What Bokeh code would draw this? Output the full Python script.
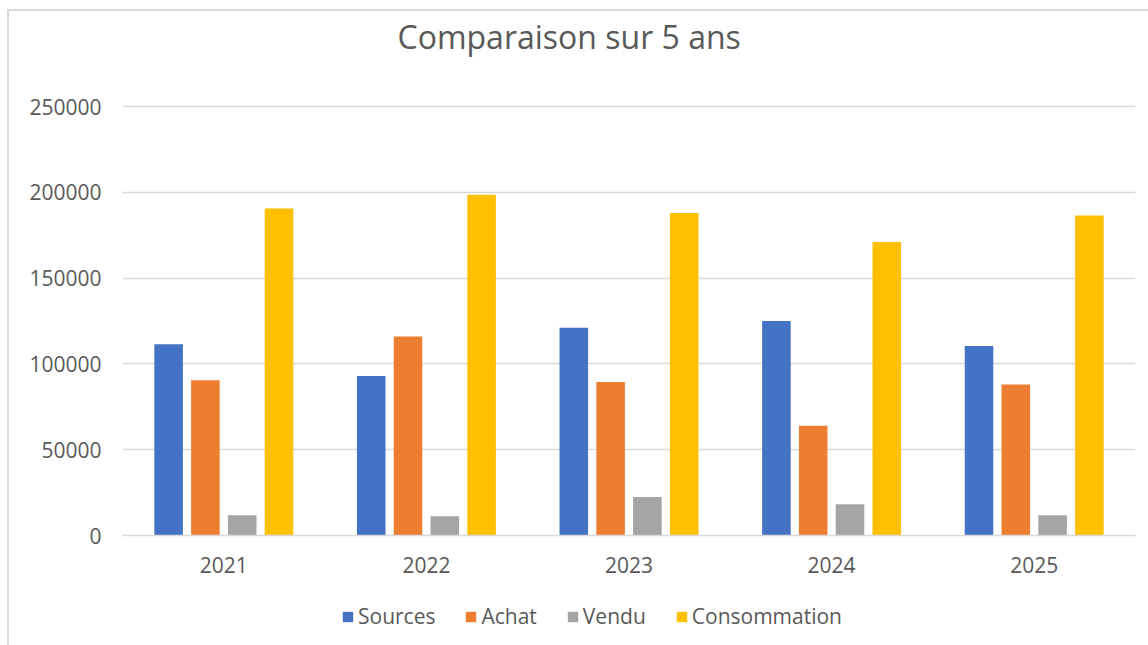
from bokeh.plotting import figure
from bokeh.layouts import column
from bokeh.models import FactorRange, Range1d, FixedTicker, NumeralTickFormatter, Legend, LegendItem, ColumnDataSource
from bokeh.transform import dodge
from bokeh.embed import file_html
from bokeh.resources import INLINE

years = ["2021", "2022", "2023", "2024", "2025"]
series = ["Sources", "Achat", "Vendu", "Consommation"]
sources = [111500, 93000, 121000, 125000, 110500]
achat = [90500, 116000, 89500, 64000, 88000]
vendu = [11800, 11200, 22500, 18200, 11800]
consommation = [190500, 198500, 188000, 171000, 186500]
colors = ["#4472C4", "#ED7D31", "#A5A5A5", "#FFC000"]
y_ticks = [0, 50000, 100000, 150000, 200000, 250000]

src = ColumnDataSource(dict(year=years, Sources=sources, Achat=achat,
                            Vendu=vendu, Consommation=consommation))

FONT = "Open Sans"
TXT = "#595959"

# frame extends a little above the top gridline so the title can sit higher
y_top = 250000 * 477 / 429

p = figure(x_range=FactorRange(*years), y_range=Range1d(0, y_top),
           width=1139, height=580, output_backend="svg", toolbar_location=None,
           min_border_left=113, min_border_right=13, min_border_top=47, min_border_bottom=56,
           title="Comparaison sur 5 ans")

p.title.text_font = FONT
p.title.text_font_size = "32px"
p.title.text_font_style = "normal"
p.title.text_color = TXT
p.title.align = "left"
p.title.offset = 275
p.title.standoff = 2

p.outline_line_color = None
p.background_fill_color = "white"
p.border_fill_color = "white"

pitch = 0.1816
bw = 0.141
offsets = [-1.5 * pitch, -0.5 * pitch, 0.5 * pitch, 1.5 * pitch]
for name, col, off in zip(series, colors, offsets):
    p.vbar(x=dodge("year", off, range=p.x_range), top=name, width=bw, source=src,
           fill_color=col, line_color=None)

p.xgrid.grid_line_color = None
p.ygrid.grid_line_color = "#D9D9D9"
p.ygrid.grid_line_width = 1.3

p.yaxis.ticker = FixedTicker(ticks=y_ticks)
p.yaxis.formatter = NumeralTickFormatter(format="0")
p.yaxis.axis_line_color = None
p.yaxis.major_tick_line_color = None
p.yaxis.minor_tick_line_color = None
p.yaxis.major_label_standoff = 15
p.yaxis.major_label_text_font = FONT
p.yaxis.major_label_text_font_size = "21px"
p.yaxis.major_label_text_color = TXT

p.xaxis.axis_line_color = "#D9D9D9"
p.xaxis.axis_line_width = 1.5
p.xaxis.major_tick_line_color = None
p.xaxis.minor_tick_line_color = None
p.xaxis.major_label_standoff = 15
p.xaxis.major_label_text_font = FONT
p.xaxis.major_label_text_font_size = "21px"
p.xaxis.major_label_text_color = TXT

# legend strip below the chart; its key renderers have no drawable extent
key_src = ColumnDataSource(dict(year=years, hidden=[float("nan")] * len(years)))
lg = figure(width=1139, height=54, output_backend="svg", toolbar_location=None,
            x_range=p.x_range, y_range=Range1d(0, 1),
            min_border_left=0, min_border_right=0, min_border_top=0, min_border_bottom=0)
lg.axis.visible = False
lg.grid.visible = False
lg.outline_line_color = None
lg.border_fill_color = "white"
keys = []
for name, col, off in zip(series, colors, offsets):
    r = lg.vbar(x=dodge("year", off, range=lg.x_range), top="hidden", bottom="hidden", width=bw,
                source=key_src, fill_color=col, line_color=None)
    keys.append(LegendItem(label=name, renderers=[r]))
legend = Legend(items=keys, location=(219, 15), orientation="horizontal",
                glyph_width=13, glyph_height=13, label_standoff=4, spacing=29,
                padding=0, margin=0, border_line_color=None, background_fill_alpha=0,
                label_text_font=FONT, label_text_font_size="21px", label_text_color=TXT)
lg.add_layout(legend, "center")

layout = column(p, lg, spacing=0)
layout.styles = {"border-left": "2px solid #d9d9d9", "border-top": "2px solid #d9d9d9",
                 "margin-left": "7px", "margin-top": "9px"}

open("out.html", "w").write(file_html(layout, INLINE))
